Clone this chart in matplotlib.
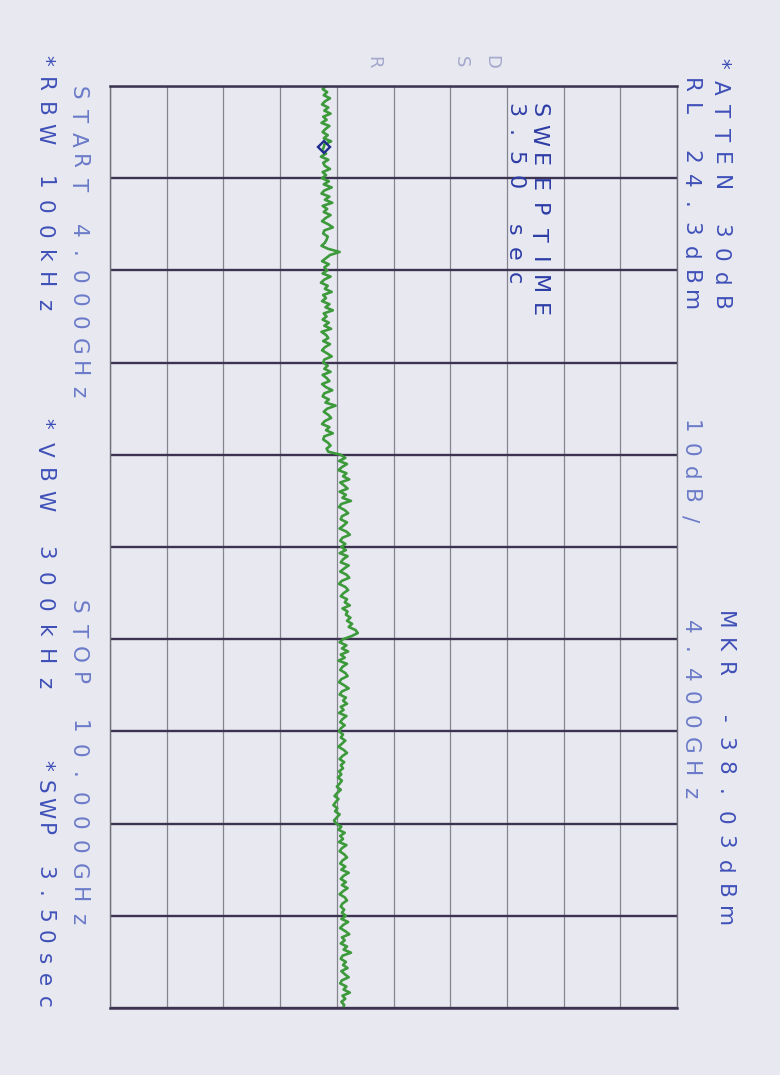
import numpy as np
import matplotlib
matplotlib.use('Agg')
import matplotlib.pyplot as plt

W, H = 780, 1075

## analyzer settings
ref_level = 24.3      # dBm, right edge of the screen
db_per_div = 10
start_ghz, stop_ghz = 4.0, 10.0
mkr_ghz, mkr_dbm = 4.4, -38.03

## trace, 30 points per frequency division
trace_dbm = [
    -37.6, -38.2, -37.4, -38.0, -36.9, -37.8, -38.3, -37.2, -37.9, -36.8,
    -38.1, -37.5, -38.4, -37.0, -37.7, -38.2, -37.3, -38.0, -36.7, -37.9,
    -38.0, -38.3, -37.6, -38.5, -37.2, -38.1, -37.8, -36.9, -38.2, -37.6,
    -38.3, -37.1, -38.0, -36.6, -37.9, -38.4, -37.0, -37.8, -36.5, -38.2,
    -37.4, -38.0, -36.8, -37.7, -38.3, -37.2, -36.4, -37.9, -38.1, -37.3,
    -37.5, -37.8, -38.4, -37.2, -35.2, -36.9, -37.6, -38.3, -37.1, -37.9,
    -37.4, -38.2, -36.8, -37.9, -38.5, -37.3, -37.8, -36.6, -38.1, -37.6,
    -38.3, -37.0, -37.7, -36.4, -38.0, -37.5, -38.2, -37.1, -37.9, -36.7,
    -38.4, -37.6, -37.2, -38.1, -36.9, -37.8, -38.3, -37.4, -36.6, -37.9,
    -38.1, -37.3, -37.9, -36.8, -38.2, -37.5, -37.0, -38.3, -37.6, -36.5,
    -37.9, -38.2, -37.1, -37.7, -35.9, -37.4, -38.0, -37.2, -36.7, -37.8,
    -38.3, -37.0, -37.6, -36.4, -37.9, -38.1, -37.3, -36.8, -37.5, -37.2,
    -35.0, -34.2, -35.3, -33.9, -34.8, -35.4, -34.0, -34.6, -33.5, -35.1,
    -34.4, -33.8, -35.2, -34.1, -34.7, -33.2, -34.9, -35.3, -34.3, -33.7,
    -34.8, -35.0, -33.9, -34.5, -35.2, -34.0, -33.4, -34.7, -35.1, -34.2,
    -34.9, -34.1, -35.2, -33.8, -34.6, -35.0, -33.6, -34.4, -35.1, -34.0,
    -33.5, -34.8, -35.3, -34.2, -33.7, -34.5, -35.0, -33.9, -34.3, -33.4,
    -34.7, -33.8, -34.1, -33.3, -33.9, -33.0, -33.6, -32.4, -32.0, -33.1,
    -34.6, -35.2, -34.0, -34.8, -33.7, -35.0, -34.3, -35.4, -33.9, -34.7,
    -35.1, -34.2, -33.8, -34.9, -35.3, -34.4, -33.6, -34.8, -35.2, -34.1,
    -34.6, -33.9, -35.0, -34.5, -35.3, -34.0, -34.7, -35.1, -34.3, -35.0,
    -35.3, -34.6, -35.0, -34.2, -34.8, -35.4, -34.5, -33.9, -34.7, -35.2,
    -34.4, -35.0, -34.6, -35.3, -34.9, -35.5, -34.8, -35.2, -35.7, -35.0,
    -35.6, -36.1, -35.4, -35.9, -36.3, -35.6, -36.0, -35.2, -35.7, -36.2,
    -35.8, -34.9, -35.4, -34.3, -35.1, -34.6, -35.3, -34.0, -34.8, -35.2,
    -34.4, -33.9, -34.7, -35.1, -34.2, -34.9, -33.6, -34.5, -35.0, -34.1,
    -34.8, -33.8, -34.6, -35.2, -34.3, -33.9, -34.7, -35.0, -34.4, -34.8,
    -34.1, -34.9, -33.7, -34.6, -35.1, -34.2, -33.5, -34.8, -34.3, -35.0,
    -33.9, -34.5, -33.2, -34.7, -35.0, -34.1, -34.6, -33.8, -34.9, -34.3,
    -33.6, -34.8, -35.1, -34.0, -34.5, -33.4, -34.7, -34.2, -34.9, -34.4,
    -34.6,
]
trace_ghz = np.linspace(start_ghz, stop_ghz, len(trace_dbm))

PAPER = '#e8e8f1'
INK = '#3f50b8'
INK_DARK = '#2c3ca6'
INK_LIGHT = '#6b7bc8'
INK_FAINT = '#a4a9cc'

fig = plt.figure(figsize=(W / 100, H / 100), dpi=100, facecolor=PAPER)

## screen: amplitude runs left->right, frequency top->bottom (plot is rotated)
ax = fig.add_axes([110 / W, 1 - 1008 / H, 567 / W, 922 / H], facecolor=PAPER)
ax.set_xlim(ref_level - 10 * db_per_div, ref_level)
ax.set_ylim(stop_ghz, start_ghz)
ax.set_xticks(np.arange(ref_level - 10 * db_per_div, ref_level + 0.1, db_per_div))
ax.set_yticks(np.linspace(start_ghz, stop_ghz, 11))
ax.tick_params(length=0, labelbottom=False, labelleft=False)
ax.grid(axis='x', color='#85858f', lw=0.9)
ax.grid(axis='y', color='#3b3350', lw=1.7)
for side in ['left', 'right']:
    ax.spines[side].set_color('#6e6e78')
    ax.spines[side].set_linewidth(1.0)
for side in ['top', 'bottom']:
    ax.spines[side].set_color('#3b3350')
    ax.spines[side].set_linewidth(1.8)

ax.plot(trace_dbm, trace_ghz, color='#3d9a3b', lw=1.9)
ax.plot([mkr_dbm], [mkr_ghz], marker='D', ms=6, mfc='none', mec='#1f2c8c', mew=1.7)


def plotter_text(x, y, s, pitch, color=INK, size=15.5):
    ## one char at a time, the plotter spaces its letters wide
    for i, ch in enumerate(s):
        if ch == ' ':
            continue
        fig.text(x / W, 1 - (y + i * pitch) / H, ch, rotation=-90, rotation_mode='anchor',
                 ha='center', va='baseline', color=color, fontsize=size,
                 family='DejaVu Sans')


## right side annotations
plotter_text(714, 63, '*ATTEN 30dB', 24)
plotter_text(684, 85, 'RL 24.3dBm', 24)
plotter_text(684, 427, '10dB/', 23, color=INK_LIGHT)
plotter_text(718, 620, 'MKR -38.03dBm', 24.7)
plotter_text(684, 627, '4.400GHz', 23.7, color=INK_LIGHT)

## left side annotations
plotter_text(38, 60, '*RBW 100kHz', 24.5)
plotter_text(72, 93, 'START 4.000GHz', 23, color=INK_LIGHT)
plotter_text(38, 423, '*VBW 300kHz', 26)
plotter_text(72, 607, 'STOP 10.000GHz', 24, color=INK_LIGHT)
plotter_text(38, 765, '*SWP 3.50sec', 21.5)

## on-screen sweep time
plotter_text(532, 110, 'SWEEPTIME', 25, color=INK_DARK, size=16)
plotter_text(508, 110, '3.50 sec', 24, color=INK_DARK, size=16)

## faint mode letters above the screen
plotter_text(368, 62, 'R', 0, color=INK_FAINT, size=13)
plotter_text(456, 62, 'S', 0, color=INK_FAINT, size=13)
plotter_text(486, 62, 'D', 0, color=INK_FAINT, size=13)

fig.savefig('out.png', dpi=100, facecolor=PAPER)
